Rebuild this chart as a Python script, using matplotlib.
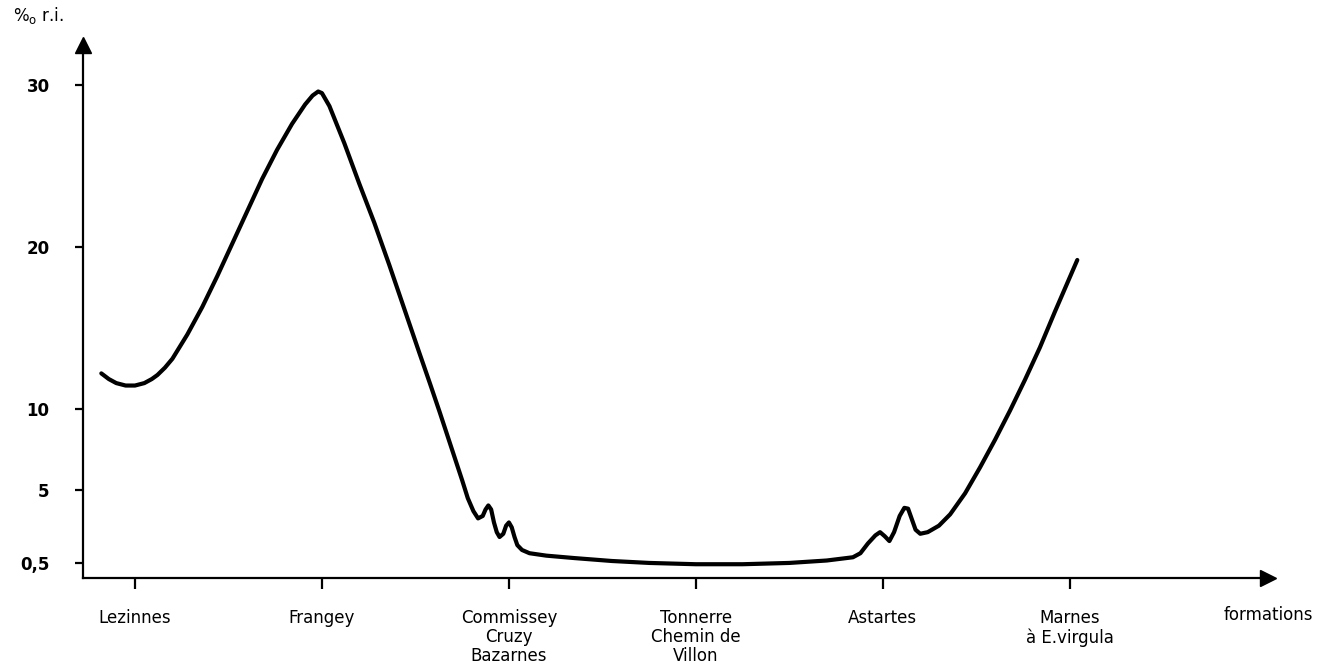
import numpy as np
import matplotlib.pyplot as plt

# formations along the x axis
formations = ['Lezinnes', 'Frangey', 'Commissey\nCruzy\nBazarnes', 'Tonnerre\nChemin de\nVillon',
              'Astartes', 'Marnes\nà E.virgula']
form_pos = [1, 2, 3, 4, 5, 6]

# curve (position along formations, % r.i.)
curve_x = [0.82, 0.86, 0.9, 0.95, 1.0, 1.05, 1.09, 1.12, 1.16, 1.2, 1.28, 1.36, 1.44, 1.52,
           1.60, 1.68, 1.76, 1.84, 1.91, 1.95, 1.98, 2.0, 2.04, 2.12, 2.20, 2.28, 2.36,
           2.44, 2.52, 2.58, 2.63, 2.67, 2.71, 2.75, 2.78, 2.81, 2.835, 2.86, 2.875,
           2.89, 2.905, 2.92, 2.935, 2.95, 2.97, 2.985, 3.0, 3.015, 3.03, 3.045, 3.07,
           3.11, 3.2, 3.35, 3.55, 3.75, 4.0, 4.25, 4.5, 4.7, 4.84, 4.88, 4.92, 4.96,
           4.985, 5.01, 5.035, 5.06, 5.09, 5.115, 5.135, 5.155, 5.175, 5.2, 5.24, 5.3,
           5.36, 5.44, 5.52, 5.6, 5.68, 5.76, 5.84, 5.92, 5.98, 6.04]
curve_y = [12.2, 11.85, 11.6, 11.45, 11.45, 11.6, 11.85, 12.1, 12.55, 13.1, 14.6, 16.3, 18.2, 20.2,
           22.2, 24.2, 26.0, 27.6, 28.8, 29.35, 29.6, 29.5, 28.7, 26.4, 23.9, 21.5, 18.9,
           16.2, 13.5, 11.5, 9.8, 8.4, 7.0, 5.6, 4.5, 3.7, 3.25, 3.4, 3.8,
           4.05, 3.8, 3.0, 2.4, 2.1, 2.3, 2.8, 3.0, 2.7, 2.1, 1.6, 1.3,
           1.1, 0.95, 0.8, 0.62, 0.5, 0.42, 0.42, 0.5, 0.65, 0.85, 1.1, 1.7, 2.2,
           2.4, 2.15, 1.85, 2.4, 3.4, 3.9, 3.85, 3.2, 2.55, 2.3, 2.4, 2.8,
           3.5, 4.8, 6.4, 8.1, 9.9, 11.8, 13.8, 16.0, 17.6, 19.2]

yticks = [0.5, 5, 10, 20, 30]
ytick_labels = ['0,5', '5', '10', '20', '30']

W, H = 1321, 667
fig = plt.figure(figsize=(W / 100, H / 100), dpi=100)
ax = fig.add_axes([83 / W, (H - 578) / H, (1268 - 83) / W, (578 - 45) / H])

ax.plot(curve_x, curve_y, color='black', lw=3, solid_capstyle='round', solid_joinstyle='round')

ax.set_xlim(0.722, 7.06)
ax.set_ylim(-0.43, 32.47)

for edge in ['top', 'right']:
    ax.spines[edge].set_visible(False)
for edge in ['left', 'bottom']:
    ax.spines[edge].set_linewidth(1.6)

# arrow heads
ax.plot(1, 0, '>', color='black', ms=11, transform=ax.transAxes, clip_on=False)
ax.plot(0, 1, '^', color='black', ms=11, transform=ax.transAxes, clip_on=False)

ax.set_yticks(yticks)
ax.set_yticklabels(ytick_labels, fontsize=12, fontweight='bold')
ax.tick_params(axis='y', direction='out', length=6, width=1.6, pad=18)

ax.set_xticks(form_pos)
ax.set_xticklabels(formations, fontsize=12, linespacing=1.1)
ax.tick_params(axis='x', direction='out', length=8, width=1.6, pad=14)

fig.text(13 / W, 1 - 16 / H, r'%$_\mathrm{o}$ r.i.', fontsize=12, va='center', ha='left')
fig.text(1268 / W, 1 - 615 / H, 'formations', fontsize=12, va='center', ha='center')

plt.savefig('out.png', dpi=100)
